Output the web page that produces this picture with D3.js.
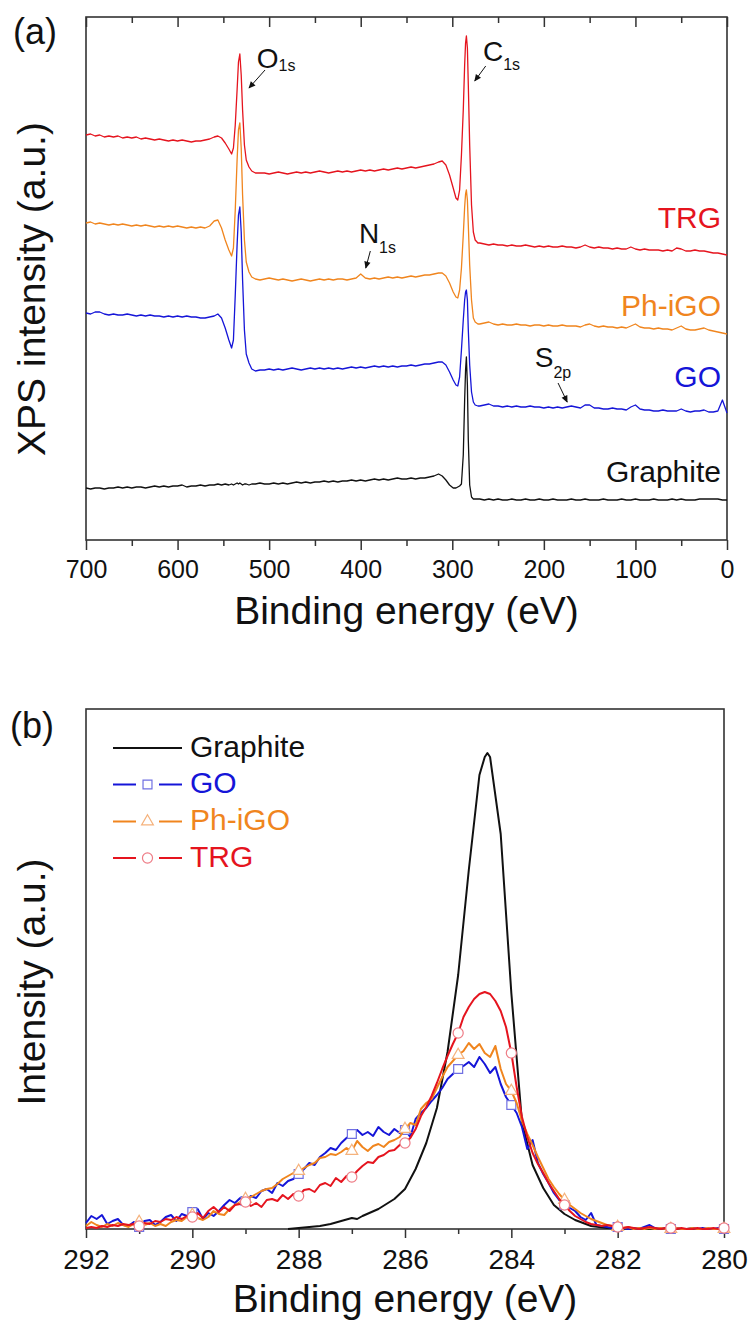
<!DOCTYPE html>
<html>
<head>
<meta charset="utf-8">
<title>XPS survey and C1s spectra</title>
<script src="https://d3js.org/d3.v7.min.js"></script>
<style>
  body { margin: 0; background: #fff; }
  svg text { font-family: "Liberation Sans", Arial, Helvetica, sans-serif; }
</style>
</head>
<body>
<div id="chart"></div>
<script>

// ---------- panel (a): survey spectra, binding energy (eV) ----------
var energyA = [
  700, 695, 690, 685, 680, 675, 670, 665, 660, 655, 650, 645, 640, 635, 630,
  625, 620, 615, 610, 605, 600, 595, 590, 585, 580, 575, 570, 565, 560,
  556, 552, 548, 544, 541, 539, 537, 535, 533.5, 532, 530.5, 529, 527, 525, 522, 519, 515, 510,
  505, 500, 495, 490, 485, 480, 475, 470, 465, 460, 455, 450, 445, 440, 435, 430, 425, 420, 415,
  410, 405, 400, 395, 390, 385, 380, 375, 370, 365, 360, 355, 350, 345, 340, 335, 330, 325, 320,
  315, 311, 307, 303, 299, 296, 294, 292, 290, 288, 286.5, 285.5, 284.6, 283.5, 282.5, 281, 279, 277, 275, 272,
  270, 265, 260, 255, 250, 245, 240, 235, 230, 225, 220, 215, 210, 205, 200, 195, 190, 185, 180, 175,
  170, 165, 160, 155, 150, 145, 140, 135, 130, 125, 120, 115, 110, 105, 100, 95, 90, 85, 80, 75,
  70, 65, 60, 55, 50, 45, 40, 35, 30, 25, 20, 15, 10, 5, 0
];

// intensities (a.u., offset for stacking)
var trgA = [
  405, 406, 404, 405, 403, 404, 403, 404, 402, 403, 402, 403, 401, 402, 401,
  400, 401, 400, 399, 400, 399, 400, 399, 398, 399, 399, 400, 401, 403,
  404, 402, 397, 391, 386, 392, 415, 450, 478, 486, 465, 430, 395, 380, 373, 369, 367, 367,
  367, 366, 367, 368, 367, 366, 367, 368, 367, 368, 367, 368, 369, 368, 367, 368, 369, 368, 369,
  368, 369, 370, 369, 370, 369, 370, 371, 370, 371, 372, 371, 372, 373, 372, 373, 374, 375, 376,
  378, 379, 375, 365, 352, 342, 340, 350, 385, 430, 475, 497, 504, 492, 455, 395, 335, 308, 300, 297,
  297, 296, 295, 296, 295, 295, 294, 295, 294, 294, 295, 294, 293, 294, 293, 294, 293, 293, 294, 293,
  293, 292, 293, 295, 293, 292, 293, 292, 292, 291, 292, 291, 291, 293, 291, 290, 291, 290, 290, 290,
  289, 290, 289, 292, 291, 289, 289, 290, 289, 289, 288, 287, 287, 286, 285
];
var phA = [
  317, 318, 316, 317, 316, 315, 316, 315, 316, 315, 314, 315, 314, 315, 314,
  313, 314, 313, 314, 313, 314, 313, 312, 313, 312, 313, 312, 314, 319,
  320, 312, 300, 290, 284, 292, 330, 380, 410, 417, 392, 345, 300, 278, 268, 263, 261, 260,
  261, 262, 261, 260, 261, 260, 259, 260, 261, 260, 259, 260, 261, 260, 261, 260, 261, 261, 260,
  261, 262, 266, 262, 261, 262, 261, 262, 263, 262, 263, 262, 263, 264, 263, 264, 265, 265, 266,
  267, 267, 264, 257, 248, 243, 242, 250, 272, 305, 333, 346, 350, 340, 315, 275, 240, 222, 218, 216,
  216, 217, 218, 216, 215, 216, 215, 215, 216, 215, 215, 214, 215, 215, 214, 215, 214, 214, 215, 214,
  214, 214, 213, 215, 216, 214, 213, 214, 213, 213, 212, 213, 212, 214, 216, 213, 212, 212, 211, 212,
  211, 211, 210, 212, 214, 211, 210, 210, 211, 212, 210, 209, 208, 207, 206
];
var goA = [
  227, 226, 228, 228, 226, 225, 226, 225, 225, 226, 225, 224, 225, 224, 225,
  224, 224, 223, 224, 223, 224, 223, 224, 223, 223, 222, 222, 223, 224,
  226, 222, 212, 200, 192, 200, 245, 295, 325, 333, 308, 260, 210, 186, 177, 171, 169, 170,
  170, 171, 170, 171, 170, 171, 172, 171, 170, 171, 172, 171, 172, 171, 172, 171, 172, 171, 172,
  173, 172, 173, 172, 173, 174, 173, 174, 173, 174, 173, 174, 174, 175, 174, 175, 176, 176, 177,
  178, 178, 175, 168, 160, 155, 154, 163, 190, 220, 240, 248, 250, 240, 210, 175, 148, 138, 135, 134,
  134, 135, 136, 134, 134, 133, 134, 133, 134, 133, 133, 134, 133, 133, 132, 133, 132, 133, 132, 133,
  134, 133, 132, 135, 135, 132, 132, 131, 131, 132, 131, 131, 130, 133, 135, 131, 130, 130, 129, 129,
  130, 129, 129, 129, 131, 129, 128, 129, 129, 130, 128, 128, 129, 140, 127
];
var graphiteA = [
  52, 51, 52, 52, 51, 52, 52, 53, 52, 53, 52, 53, 53, 52, 53,
  54, 53, 54, 53, 54, 54, 55, 53, 54, 54, 55, 54, 55, 55,
  56, 55, 56, 55, 56, 55, 56, 57, 56, 57, 56, 55, 56, 56, 55, 56, 56, 57,
  56, 56, 57, 56, 57, 56, 57, 58, 57, 58, 57, 58, 58, 59, 58, 59, 58, 59, 59,
  60, 59, 60, 59, 60, 61, 60, 61, 60, 61, 62, 61, 61, 62, 61, 62, 62, 63, 64,
  66, 64, 60, 55, 52, 52, 53, 54, 56, 85, 140, 170, 183, 155, 100, 55, 43, 41, 41, 41,
  41, 40, 41, 40, 41, 40, 40, 41, 40, 40, 41, 40, 40, 41, 40, 40, 41, 40, 40, 40,
  41, 40, 40, 41, 40, 40, 40, 41, 40, 40, 40, 41, 40, 40, 41, 40, 40, 40, 41, 40,
  40, 40, 41, 40, 41, 40, 40, 40, 41, 41, 41, 41, 41, 40, 40
];
var ticksA = [700, 600, 500, 400, 300, 200, 100, 0];
var minorA = [650, 550, 450, 350, 250, 150, 50];

// peak annotations: label, subscript, text anchor (eV, a.u.), arrow start and end (eV, a.u.)
var peakNotes = [
  { main: "O", sub: "1s", e: 513.5, v: 472, subDy: 3, from: [504.5, 470], to: [522, 452] },
  { main: "C", sub: "1s", e: 266.5, v: 479, subDy: 9, from: [263.5, 474], to: [275.5, 459] },
  { main: "N", sub: "1s", e: 402, v: 297, subDy: 10, from: [389.5, 289], to: [394.5, 272] },
  { main: "S", sub: "2p", e: 210, v: 173, subDy: 11, from: [184.5, 157], to: [174.5, 138] }
];

// ---------- panel (b): C1s region ----------
var energyB = [
  292.0, 291.9, 291.8, 291.7, 291.6, 291.5, 291.4, 291.3, 291.2, 291.1,
  291.0, 290.9, 290.8, 290.7, 290.6, 290.5, 290.4, 290.3, 290.2, 290.1,
  290.0, 289.9, 289.8, 289.7, 289.6, 289.5, 289.4, 289.3, 289.2, 289.1,
  289.0, 288.9, 288.8, 288.7, 288.6, 288.5, 288.4, 288.3, 288.2, 288.1,
  288.0, 287.9, 287.8, 287.7, 287.6, 287.5, 287.4, 287.3, 287.2, 287.1,
  287.0, 286.9, 286.8, 286.7, 286.6, 286.5, 286.4, 286.3, 286.2, 286.1,
  286.0, 285.9, 285.8, 285.7, 285.6, 285.5, 285.4, 285.3, 285.2, 285.1,
  285.0, 284.9, 284.8, 284.7, 284.6, 284.5, 284.4, 284.3, 284.2, 284.1,
  284.0, 283.9, 283.8, 283.7, 283.6, 283.5, 283.4, 283.3, 283.2, 283.1,
  283.0, 282.9, 282.8, 282.7, 282.6, 282.5, 282.4, 282.3, 282.2, 282.1,
  282.0, 281.9, 281.8, 281.7, 281.6, 281.5, 281.4, 281.3, 281.2, 281.1,
  281.0, 280.9, 280.8, 280.7, 280.6, 280.5, 280.4, 280.3, 280.2, 280.1,
  280.0
];
var goB = [
  6, 13, 10, 14, 5, 8, 10, 4, 3, 7,
  2, 8, 9, 4, 7, 12, 14, 8, 15, 13,
  17, 20, 10, 16, 13, 18, 24, 29, 26, 31,
  28, 33, 31, 38, 40, 36, 46, 43, 48, 50,
  55, 60, 66, 64, 72, 76, 81, 79, 86, 91,
  95, 99, 94, 97, 93, 102, 97, 94, 100, 96,
  99, 92, 110, 116, 121, 128, 134, 141, 150, 155,
  160, 163, 167, 162, 172, 165, 156, 162, 145, 132,
  124, 116, 102, 80, 89, 66, 55, 46, 36, 29,
  24, 21, 18, 12, 9, 16, 4, 3, 2, 1,
  2, 1, 0, 1, 0, 2, 4, 1, 0, 1,
  0, 1, 0, 0, 1, 0, 1, 0, 0, 1,
  0
];
var phB = [
  3, 7, 4, 2, 5, 3, 6, 4, 2, 5,
  7, 4, 6, 3, 5, 3, 7, 9, 8, 12,
  14, 11, 9, 12, 18, 15, 14, 20, 24, 27,
  30, 32, 35, 38, 40, 41, 45, 50, 53, 56,
  58, 61, 64, 66, 71, 72, 75, 74, 77, 81,
  78, 88, 82, 78, 83, 85, 82, 87, 89, 92,
  100, 106, 104, 120, 126, 130, 141, 152, 162, 168,
  174, 178, 186, 180, 185, 176, 172, 183, 160, 145,
  138, 126, 108, 95, 84, 72, 61, 50, 42, 35,
  29, 24, 20, 16, 13, 10, 8, 6, 4, 3,
  2, 1, 2, 0, 1, 0, 1, 0, 1, 0,
  0, 1, 0, 0, 1, 0, 0, 1, 0, 0,
  0
];
var trgB = [
  1, 2, 1, 3, 2, 4, 3, 5, 4, 5,
  3, 6, 5, 8, 7, 10, 9, 12, 10, 13,
  12, 16, 11, 18, 22, 17, 22, 18, 24, 25,
  27, 23, 26, 22, 29, 30, 28, 34, 30, 35,
  33, 39, 40, 37, 44, 46, 43, 51, 47, 53,
  52, 58, 63, 67, 66, 72, 74, 78, 79, 84,
  86, 91, 100, 113, 122, 133, 146, 160, 173, 185,
  196, 212, 222, 230, 235, 237, 235, 228, 218, 202,
  176, 142, 112, 92, 76, 65, 56, 46, 38, 30,
  24, 18, 13, 10, 7, 5, 4, 3, 4, 3,
  2, 1, 2, 1, 0, 1, 2, 1, 0, 1,
  1, 0, 1, 0, 0, 1, 0, 0, 1, 0,
  1
];
// graphite is smooth, read on its own energy points
var graphiteE = [288.2, 287.8, 287.6, 287.4, 287.2, 287.0, 286.9, 286.8, 286.5, 286.2, 286.0, 285.8,
  285.6, 285.4, 285.2, 285.0, 284.8, 284.6, 284.5, 284.45, 284.4, 284.2, 284.0, 283.8, 283.6,
  283.4, 283.2, 283.0, 282.8, 282.5, 282.2, 281.5, 281.0, 280.5, 280.0];
var graphiteB = [0, 2, 3, 5, 8, 11, 10, 13, 20, 30, 40, 60,
  86, 121, 177, 254, 359, 454, 472, 476, 472, 395, 236, 107, 64,
  41, 24, 15, 9, 3, 1, 0, 0, 0, 0];
var markerE = [291, 290, 289, 288, 287, 286, 285, 284, 283, 282, 281, 280];
var ticksB = [292, 290, 288, 286, 284, 282, 280];
var minorB = [291, 289, 287, 285, 283, 281];

var names = ["Graphite", "GO", "Ph-iGO", "TRG"];
var colors = { "Graphite": "#111111", "GO": "#1515d8", "Ph-iGO": "#f0851e", "TRG": "#e5141e" };
var markerColors = { "GO": "#7070e2", "Ph-iGO": "#f5b27c", "TRG": "#ee7c86" };

[trgA, phA, goA, graphiteA].forEach(function(a) {
  if (a.length !== energyA.length) throw new Error("panel a length " + a.length);
});
[goB, phB, trgB].forEach(function(a) {
  if (a.length !== energyB.length) throw new Error("panel b length " + a.length);
});

var width = 752, height = 1322;
var font = '"Liberation Sans", Arial, sans-serif';

var svg = d3.select("#chart")
  .append("svg")
    .attr("width", width)
    .attr("height", height);

svg.append("rect").attr("width", width).attr("height", height).attr("fill", "#fff");

var defs = svg.append("defs");
defs.append("marker")
    .attr("id", "arrow")
    .attr("viewBox", "0 0 10 10")
    .attr("refX", 9).attr("refY", 5)
    .attr("markerWidth", 8).attr("markerHeight", 7)
    .attr("markerUnits", "userSpaceOnUse")
    .attr("orient", "auto")
  .append("path")
    .attr("d", "M0,0.5 L10,5 L0,9.5 z")
    .attr("fill", "#111");

function styleAxis(g, size) {
  g.select(".domain").remove();
  g.selectAll(".tick line").attr("stroke", "#333").attr("stroke-width", 1.5);
  g.selectAll(".tick text").attr("fill", "#111").attr("font-size", size).attr("font-family", font);
}

// ================= panel (a) =================
var xA = d3.scaleLinear().domain([700, 0]).range([86, 727]);
var yA = d3.scaleLinear().domain([0, 523]).range([540, 17]);

var gA = svg.append("g");

// bottom axis, ticks outward
gA.append("g")
    .attr("transform", "translate(0,540)")
    .call(d3.axisBottom(xA).tickValues(ticksA).tickSize(10).tickPadding(10).tickFormat(d3.format("d")))
    .call(styleAxis, 25);
gA.append("g")
    .attr("transform", "translate(0,540)")
    .call(d3.axisBottom(xA).tickValues(minorA).tickSize(6).tickFormat(""))
    .call(styleAxis, 25);
// top axis, ticks inward
gA.append("g")
    .attr("transform", "translate(0,17)")
    .call(d3.axisBottom(xA).tickValues(ticksA).tickSize(10).tickFormat(""))
    .call(styleAxis, 25);
gA.append("g")
    .attr("transform", "translate(0,17)")
    .call(d3.axisBottom(xA).tickValues(minorA).tickSize(6).tickFormat(""))
    .call(styleAxis, 25);

gA.append("rect")
    .attr("x", 86).attr("y", 17)
    .attr("width", 727 - 86).attr("height", 540 - 17)
    .attr("fill", "none").attr("stroke", "#333").attr("stroke-width", 1.6);

var lineA = d3.line()
    .x(function(d, i) { return xA(energyA[i]); })
    .y(function(d) { return yA(d); });

var seriesA = { "Graphite": graphiteA, "GO": goA, "Ph-iGO": phA, "TRG": trgA };
names.forEach(function(n) {
  gA.append("path")
      .datum(seriesA[n])
      .attr("d", lineA)
      .attr("fill", "none")
      .attr("stroke", colors[n])
      .attr("stroke-width", 1.3)
      .attr("stroke-linejoin", "round");
});

// series labels on the right
var labelBaseA = { "TRG": 228, "Ph-iGO": 316, "GO": 387, "Graphite": 482 };
names.forEach(function(n) {
  gA.append("text")
      .attr("x", 721)
      .attr("y", labelBaseA[n])
      .attr("text-anchor", "end")
      .attr("font-size", 30)
      .attr("fill", colors[n])
      .text(n);
});

// peak labels with arrows
peakNotes.forEach(function(p) {
  var t = gA.append("text")
      .attr("x", xA(p.e))
      .attr("y", yA(p.v))
      .attr("fill", "#111");
  t.append("tspan").attr("font-size", 28).text(p.main);
  t.append("tspan").attr("font-size", 16).attr("dy", p.subDy).text(p.sub);
  gA.append("line")
      .attr("x1", xA(p.from[0])).attr("y1", yA(p.from[1]))
      .attr("x2", xA(p.to[0])).attr("y2", yA(p.to[1]))
      .attr("stroke", "#111").attr("stroke-width", 1)
      .attr("marker-end", "url(#arrow)");
});

gA.append("text")
    .attr("x", (86 + 727) / 2)
    .attr("y", 624)
    .attr("text-anchor", "middle")
    .attr("font-size", 39)
    .attr("fill", "#111")
    .text("Binding energy (eV)");

gA.append("text")
    .attr("transform", "translate(45,289) rotate(-90)")
    .attr("text-anchor", "middle")
    .attr("font-size", 39)
    .attr("fill", "#111")
    .text("XPS intensity (a.u.)");

gA.append("text")
    .attr("x", 13).attr("y", 44)
    .attr("font-size", 36)
    .attr("fill", "#111")
    .text("(a)");

// ================= panel (b) =================
var xB = d3.scaleLinear().domain([292, 280]).range([86, 724]);
var yB = d3.scaleLinear().domain([0, 520]).range([1229, 709]);

var gB = svg.append("g");

gB.append("g")
    .attr("transform", "translate(0,1229)")
    .call(d3.axisBottom(xB).tickValues(ticksB).tickSize(9).tickPadding(11).tickFormat(d3.format("d")))
    .call(styleAxis, 28);
gB.append("g")
    .attr("transform", "translate(0,1229)")
    .call(d3.axisBottom(xB).tickValues(minorB).tickSize(5).tickFormat(""))
    .call(styleAxis, 28);

gB.append("rect")
    .attr("x", 86).attr("y", 709)
    .attr("width", 724 - 86).attr("height", 1229 - 709)
    .attr("fill", "none").attr("stroke", "#333").attr("stroke-width", 1.6);

var lineB = d3.line()
    .x(function(d, i) { return xB(energyB[i]); })
    .y(function(d) { return yB(d); });

gB.append("path")
    .datum(graphiteB)
    .attr("d", d3.line()
      .x(function(d, i) { return xB(graphiteE[i]); })
      .y(function(d) { return yB(d); }))
    .attr("fill", "none")
    .attr("stroke", colors["Graphite"])
    .attr("stroke-width", 2)
    .attr("stroke-linejoin", "round");

var seriesB = { "GO": goB, "Ph-iGO": phB, "TRG": trgB };
var symbolB = { "GO": d3.symbolSquare, "Ph-iGO": d3.symbolTriangle, "TRG": d3.symbolCircle };
var symSize = { "GO": 80, "Ph-iGO": 60, "TRG": 80 };

function valueAt(arr, e) {
  for (var i = 0; i < energyB.length; i++) {
    if (Math.abs(energyB[i] - e) < 1e-6) return arr[i];
  }
  return 0;
}

["GO", "Ph-iGO", "TRG"].forEach(function(n) {
  gB.append("path")
      .datum(seriesB[n])
      .attr("d", lineB)
      .attr("fill", "none")
      .attr("stroke", colors[n])
      .attr("stroke-width", 2)
      .attr("stroke-linejoin", "round");
  gB.selectAll(".mk-" + n)
      .data(markerE)
      .enter()
      .append("path")
      .attr("transform", function(e) { return "translate(" + xB(e) + "," + yB(valueAt(seriesB[n], e)) + ")"; })
      .attr("d", d3.symbol().type(symbolB[n]).size(symSize[n]))
      .attr("fill", "#fff")
      .attr("stroke", markerColors[n])
      .attr("stroke-width", 1.2);
});

// legend
var legendY = [748, 784.5, 821.5, 858];
names.forEach(function(n, i) {
  var y = legendY[i];
  if (n === "Graphite") {
    gB.append("line").attr("x1", 113).attr("x2", 182).attr("y1", y).attr("y2", y)
        .attr("stroke", colors[n]).attr("stroke-width", 2);
  } else {
    gB.append("line").attr("x1", 113).attr("x2", 136).attr("y1", y).attr("y2", y)
        .attr("stroke", colors[n]).attr("stroke-width", 2);
    gB.append("line").attr("x1", 159).attr("x2", 182).attr("y1", y).attr("y2", y)
        .attr("stroke", colors[n]).attr("stroke-width", 2);
    gB.append("path")
        .attr("transform", "translate(147.5," + y + ")")
        .attr("d", d3.symbol().type(symbolB[n]).size(symSize[n]))
        .attr("fill", "#fff")
        .attr("stroke", markerColors[n])
        .attr("stroke-width", 1.2);
  }
  gB.append("text")
      .attr("x", 190)
      .attr("y", y + 8.5)
      .attr("font-size", 30)
      .attr("fill", colors[n])
      .text(n);
});

gB.append("text")
    .attr("x", (86 + 724) / 2)
    .attr("y", 1312)
    .attr("text-anchor", "middle")
    .attr("font-size", 39)
    .attr("fill", "#111")
    .text("Binding energy (eV)");

gB.append("text")
    .attr("transform", "translate(45,982) rotate(-90)")
    .attr("text-anchor", "middle")
    .attr("font-size", 39)
    .attr("fill", "#111")
    .text("Intensity (a.u.)");

gB.append("text")
    .attr("x", 10).attr("y", 738)
    .attr("font-size", 36)
    .attr("fill", "#111")
    .text("(b)");

</script>
</body>
</html>
